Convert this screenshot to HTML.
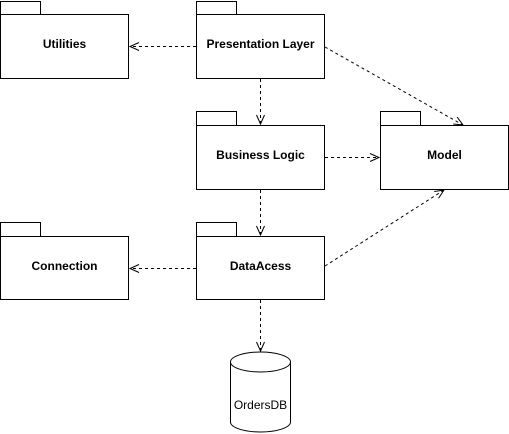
<!DOCTYPE html>
<html><head><style>body{margin:0;background:#fff}svg{display:block}</style></head><body>
<svg width="509" height="434" xmlns="http://www.w3.org/2000/svg" font-family="Liberation Sans, sans-serif">
<defs><marker id="a" markerWidth="12" markerHeight="12" refX="10" refY="5" orient="auto" markerUnits="userSpaceOnUse"><path d="M1,1 L10,5 L1,9" fill="none" stroke="#000"/></marker></defs>
<g fill="#fff" stroke="#000" stroke-width="1">
<rect x="0.5" y="1.5" width="40" height="13"/><rect x="0.5" y="14.5" width="128" height="64"/>
<rect x="196.5" y="1.5" width="40" height="13"/><rect x="196.5" y="14.5" width="128" height="64"/>
<rect x="196.5" y="111.5" width="40" height="14"/><rect x="196.5" y="125.5" width="128" height="64"/>
<rect x="380.5" y="111.5" width="40" height="14"/><rect x="380.5" y="125.5" width="128" height="64"/>
<rect x="0.5" y="222.5" width="40" height="14"/><rect x="0.5" y="236.5" width="128" height="63"/>
<rect x="196.5" y="222.5" width="40" height="14"/><rect x="196.5" y="236.5" width="128" height="63"/>
<path d="M230.5,362 A30,10 0 0 1 290.5,362 L290.5,422 A30,10 0 0 1 230.5,422 Z"/>
<path d="M230.5,362 A30,10 0 0 0 290.5,362" fill="none"/>
</g>
<g stroke="#000" stroke-dasharray="3,3" fill="none" marker-end="url(#a)">
<line x1="196" y1="46.5" x2="130" y2="46.5"/>
<line x1="260.5" y1="79" x2="260.5" y2="124"/>
<line x1="325" y1="47" x2="463" y2="125"/>
<line x1="325" y1="157.5" x2="379" y2="157.5"/>
<line x1="260.5" y1="190" x2="260.5" y2="235"/>
<line x1="196" y1="268.5" x2="130" y2="268.5"/>
<line x1="325" y1="266" x2="444" y2="190"/>
<line x1="260.5" y1="300" x2="260.5" y2="351"/>
</g>
<g font-size="12" font-weight="bold" text-anchor="middle">
<text x="64.5" y="48">Utilities</text>
<text x="260.5" y="48">Presentation Layer</text>
<text x="260.5" y="159">Business Logic</text>
<text x="444.5" y="159">Model</text>
<text x="64.5" y="270">Connection</text>
<text x="260.5" y="270">DataAcess</text>
</g>
<text x="260.5" y="409" font-size="12" text-anchor="middle">OrdersDB</text>
</svg>
</body></html>
